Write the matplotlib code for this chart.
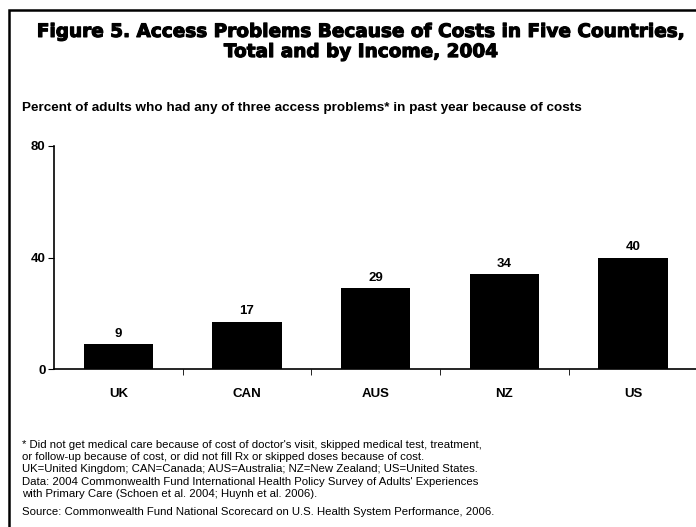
import matplotlib
matplotlib.use('Agg')
import matplotlib.pyplot as plt
import matplotlib.patheffects as pe
from matplotlib.patches import Rectangle

# datos
paises = ['UK', 'CAN', 'AUS', 'NZ', 'US']
porcentajes = [9, 17, 29, 34, 40]
ticks_y = [0, 40, 80]

plt.rcParams['font.family'] = ['Liberation Sans', 'DejaVu Sans']

fig = plt.figure(figsize=(6.96, 5.27), dpi=100)
W, H = 696, 527

# marco exterior
fig.patches.append(Rectangle((9 / W, -0.05), 1.2, 1 - 10 / H + 0.05,
                             transform=fig.transFigure, fill=False,
                             edgecolor='black', linewidth=1.8))

# titulo
titulo = ('Figure 5. Access Problems Because of Costs in Five Countries,\n'
          'Total and by Income, 2004')
fig.text(361 / W, 1 - 42 / H, titulo, ha='center', va='center',
         fontsize=13.3, fontweight='bold', family='DejaVu Sans',
         linespacing=1.15,
         path_effects=[pe.withStroke(linewidth=0.8, foreground='black')])

fig.text(22 / W, 1 - 108 / H,
         'Percent of adults who had any of three access problems* in past year because of costs',
         ha='left', va='center', fontsize=9.7, fontweight='bold')

ax = fig.add_axes([54 / W, 1 - 369 / H, (700 - 54) / W, (369 - 146) / H])
x = list(range(len(paises)))
barras = ax.bar(x, porcentajes, width=0.54, color='black')
ax.bar_label(barras, padding=3, fontsize=9.5, fontweight='bold')

ax.set_xlim(-0.5, 4.52)
ax.set_ylim(0, 80)
ax.set_yticks(ticks_y)
ax.set_yticklabels([str(t) for t in ticks_y], fontsize=9.5, fontweight='bold')
ax.set_xticks(x)
ax.set_xticklabels(paises, fontsize=9.5, fontweight='bold')
ax.set_xticks([i + 0.5 for i in x[:-1]], minor=True)
ax.tick_params(axis='x', which='major', length=0, pad=14)
ax.tick_params(axis='x', which='minor', length=4, direction='out')
ax.tick_params(axis='y', length=4, direction='out', pad=2)
for s in ['top', 'right']:
    ax.spines[s].set_visible(False)
for s in ['left', 'bottom']:
    ax.spines[s].set_linewidth(1.2)
ax.patch.set_alpha(0)

# notas
notas = ("* Did not get medical care because of cost of doctor's visit, skipped medical test, treatment,\n"
         "or follow-up because of cost, or did not fill Rx or skipped doses because of cost.\n"
         "UK=United Kingdom; CAN=Canada; AUS=Australia; NZ=New Zealand; US=United States.\n"
         "Data: 2004 Commonwealth Fund International Health Policy Survey of Adults' Experiences\n"
         "with Primary Care (Schoen et al. 2004; Huynh et al. 2006).")
fig.text(22 / W, 1 - 440 / H, notas, ha='left', va='top', fontsize=8.2,
         linespacing=1.28)
fig.text(22 / W, 1 - 512 / H,
         'Source: Commonwealth Fund National Scorecard on U.S. Health System Performance, 2006.',
         ha='left', va='center', fontsize=8.2)

fig.savefig('out.png', dpi=100)
